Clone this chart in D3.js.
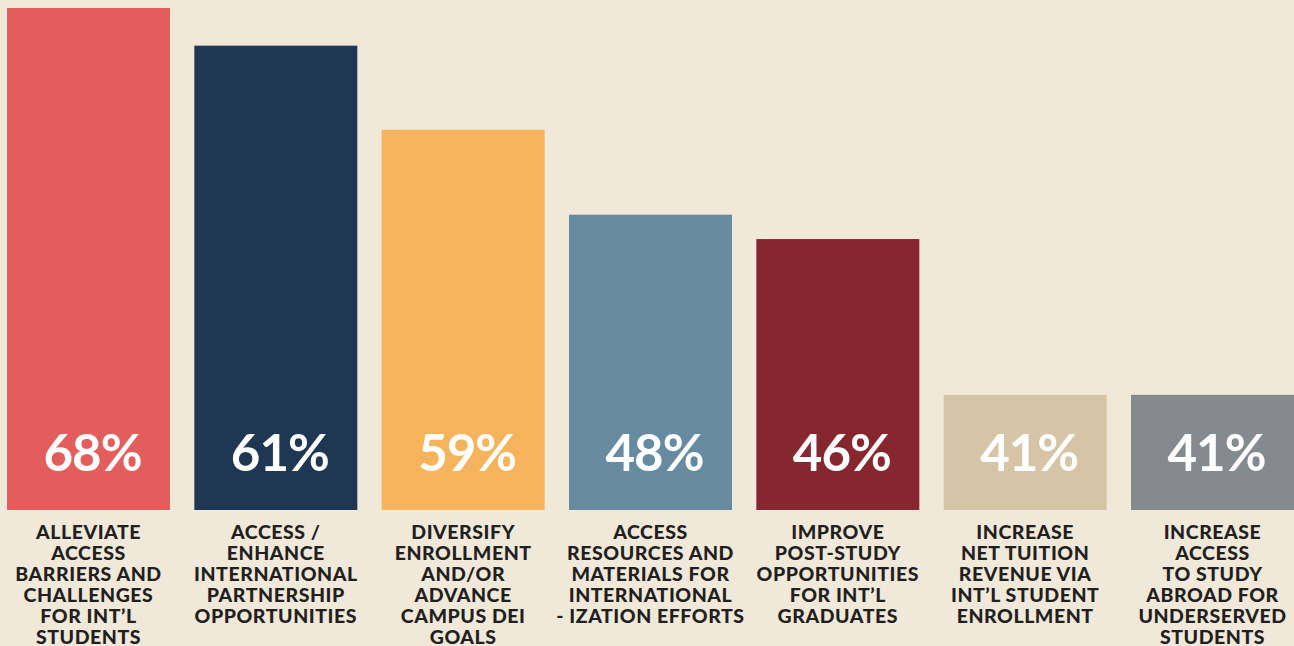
<!DOCTYPE html>
<html>
<head>
<meta charset="utf-8">
<script src="https://cdn.jsdelivr.net/npm/d3@7"></script>
<style>
  html, body { margin: 0; padding: 0; background: #f0e9da; }
  svg { display: block; }
</style>
</head>
<body>
<div id="chart"></div>
<script>
let width = 1294,
    height = 646;

// values printed on the bars
let values = [68, 61, 59, 48, 46, 41, 41];
// drawn bar level (the artwork does not scale bars to the printed value)
let barLevel = [68, 62.9, 51.5, 40.0, 36.7, 15.6, 15.6];

let categories = [
    ["ALLEVIATE", "ACCESS", "BARRIERS AND", "CHALLENGES", "FOR INT\u2019L", "STUDENTS"],
    ["ACCESS /", "ENHANCE", "INTERNATIONAL", "PARTNERSHIP", "OPPORTUNITIES"],
    ["DIVERSIFY", "ENROLLMENT", "AND/OR", "ADVANCE", "CAMPUS DEI", "GOALS"],
    ["ACCESS", "RESOURCES AND", "MATERIALS FOR", "INTERNATIONAL", "- IZATION EFFORTS"],
    ["IMPROVE", "POST-STUDY", "OPPORTUNITIES", "FOR INT\u2019L", "GRADUATES"],
    ["INCREASE", "NET TUITION", "REVENUE VIA", "INT\u2019L STUDENT", "ENROLLMENT"],
    ["INCREASE", "ACCESS", "TO STUDY", "ABROAD FOR", "UNDERSERVED", "STUDENTS"]
];

let colors = ['#e35d5c', '#1f3753', '#f5b35c', '#668a9f', '#86272f', '#d6c4a6', '#848b8e'];

let svg = d3.select("#chart")
    .append("svg")
    .attr("width", width)
    .attr("height", height);

svg.append("rect")
    .attr("width", width)
    .attr("height", height)
    .attr("fill", "#f0e9da");

let idx = d3.range(values.length);

let x = d3.scaleBand()
    .domain(idx)
    .range([7, 1294])
    .paddingInner(0.13)
    .paddingOuter(0);

let y = d3.scaleLinear()
    .domain([0, d3.max(barLevel)])
    .range([510, 8]);

// bars
svg.selectAll(".bar")
    .data(idx)
    .enter()
    .append("rect")
    .attr("class", "bar")
    .attr("x", d => x(d))
    .attr("y", d => y(barLevel[d]))
    .attr("width", x.bandwidth())
    .attr("height", d => y(0) - y(barLevel[d]))
    .attr("fill", d => colors[d]);

// percent labels
svg.selectAll(".pct")
    .data(idx)
    .enter()
    .append("text")
    .attr("class", "pct")
    .attr("x", d => x(d) + x.bandwidth() / 2 + 4)
    .attr("y", y(0) - 39)
    .attr("text-anchor", "middle")
    .style("font-family", "Lato, 'Open Sans', sans-serif")
    .style("font-weight", 700)
    .style("font-size", "51px")
    .style("letter-spacing", "-1px")
    .style("fill", "#ffffff")
    .text(d => values[d] + "%");

// category labels
let cat = svg.selectAll(".cat")
    .data(idx)
    .enter()
    .append("text")
    .attr("class", "cat")
    .attr("text-anchor", "middle")
    .style("font-family", "Lato, 'Open Sans', sans-serif")
    .style("font-weight", 900)
    .style("font-size", "19.5px")
    .style("letter-spacing", "0.55px")
    .style("fill", "#231f20");

cat.selectAll("tspan")
    .data(d => categories[d].map(t => ({ t: t, i: d })))
    .enter()
    .append("tspan")
    .attr("x", d => x(d.i) + x.bandwidth() / 2)
    .attr("y", (d, k) => 539 + k * 21)
    .text(d => d.t);
</script>
</body>
</html>
